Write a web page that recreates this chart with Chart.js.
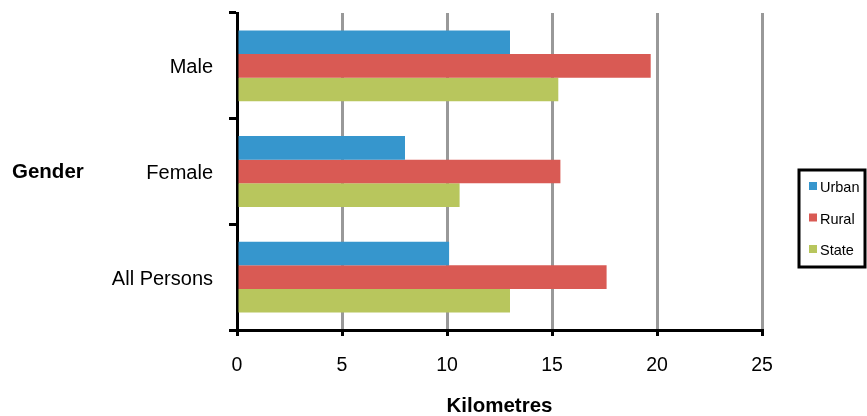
<!DOCTYPE html>
<html>
<head>
<meta charset="utf-8">
<script src="https://cdn.jsdelivr.net/npm/chart.js@4.4.1/dist/chart.umd.min.js"></script>
<style>
  html, body { margin: 0; padding: 0; background: #fff; }
  #wrap { width: 867px; height: 416px; position: relative; }
</style>
</head>
<body>
<div id="wrap"><canvas id="c" width="867" height="416"></canvas></div>
<script>
// Average distance travelled (km) by gender and area
const categories = ['Male', 'Female', 'All Persons'];
const urban = [13.0, 8.0, 10.1];
const rural = [19.7, 15.4, 17.6];
const state = [15.3, 10.6, 13.0];
const seriesNames = ['Urban', 'Rural', 'State'];
const xTicks = [0, 5, 10, 15, 20, 25];
const yTitle = 'Gender';
const xTitle = 'Kilometres';

const colors = ['#3696CD', '#D95A54', '#B8C65D'];
const FONT = '"Liberation Sans", Arial, sans-serif';

// Axis titles and the boxed legend are painted after the chart
const decorations = {
  id: 'decorations',
  afterDraw(chart) {
    const ctx = chart.ctx;
    const area = chart.chartArea;
    ctx.save();
    ctx.fillStyle = '#000';
    ctx.textBaseline = 'middle';

    // y-axis title, horizontal, at the far left
    ctx.font = 'bold 20.5px ' + FONT;
    ctx.textAlign = 'left';
    ctx.fillText(yTitle, 12, 172);

    // x-axis title
    ctx.textAlign = 'center';
    ctx.fillText(xTitle, (area.left + area.right) / 2, 406);

    // legend box
    const bx = 799, by = 170, bw = 66, bh = 97;
    ctx.lineWidth = 3;
    ctx.strokeStyle = '#000';
    ctx.strokeRect(bx, by, bw, bh);
    ctx.font = '14.5px ' + FONT;
    ctx.textAlign = 'left';
    chart.data.datasets.forEach((ds, i) => {
      const cy = 187 + i * 31.5;
      ctx.fillStyle = ds.backgroundColor;
      ctx.fillRect(809, cy - 5, 8, 8);
      ctx.fillStyle = '#000';
      ctx.fillText(ds.label, 820, cy + 1);
    });
    ctx.restore();
  }
};

new Chart(document.getElementById('c'), {
  type: 'bar',
  data: {
    labels: categories,
    datasets: [
      { label: seriesNames[0], data: urban, backgroundColor: colors[0] },
      { label: seriesNames[1], data: rural, backgroundColor: colors[1] },
      { label: seriesNames[2], data: state, backgroundColor: colors[2] }
    ]
  },
  options: {
    indexAxis: 'y',
    responsive: false,
    animation: false,
    events: [],
    layout: { padding: { top: 13, right: 105, left: 0, bottom: 0 } },
    datasets: {
      bar: { categoryPercentage: 0.67, barPercentage: 1.0, borderWidth: 0 }
    },
    plugins: {
      legend: { display: false },
      tooltip: { enabled: false }
    },
    scales: {
      x: {
        min: 0,
        max: 25,
        afterBuildTicks(scale) {
          scale.ticks = xTicks.map(v => ({ value: v }));
        },
        afterFit(scale) { scale.height = 86; },
        grid: {
          color: '#999999',
          lineWidth: 3,
          drawTicks: true,
          tickLength: 6,
          tickColor: '#000',
          tickWidth: 3
        },
        border: { display: true, color: '#000', width: 3 },
        ticks: {
          color: '#000',
          padding: 18,
          font: { family: FONT, size: 19.5 }
        }
      },
      y: {
        afterFit(scale) {
          scale.width = 237;
          scale.paddingTop = 0;
          scale.paddingBottom = 0;
        },
        grid: {
          drawOnChartArea: false,
          drawTicks: true,
          tickLength: 8,
          tickColor: '#000',
          tickWidth: 3,
          offset: true
        },
        border: { display: true, color: '#000', width: 3 },
        ticks: {
          color: '#000',
          padding: 16,
          labelOffset: 2,
          font: { family: FONT, size: 20 }
        }
      }
    }
  },
  plugins: [decorations]
});
</script>
</body>
</html>
